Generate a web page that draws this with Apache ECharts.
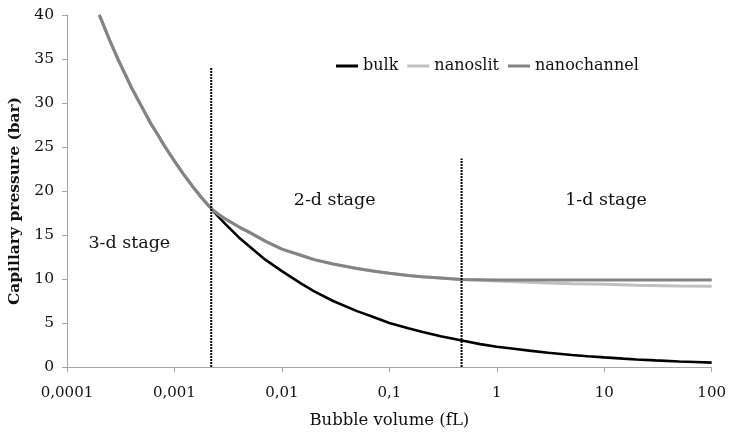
<!DOCTYPE html>
<html>
<head>
<meta charset="utf-8">
<script src="https://cdn.jsdelivr.net/npm/echarts@6/dist/echarts.min.js"></script>
<style>
html,body{margin:0;padding:0;background:#fff;}
#chart{width:729px;height:434px;}
</style>
</head>
<body>
<div id="chart"></div>
<script>
// ---- data ----
var xTickLabels = ['0,0001', '0,001', '0,01', '0,1', '1', '10', '100'];

var bulkV = [0.0002, 0.00025, 0.0003, 0.00035, 0.0004, 0.0005, 0.0006, 0.0007, 0.0008, 0.001, 0.0012, 0.0015, 0.0018, 0.0022, 0.0026, 0.003, 0.004, 0.005, 0.007, 0.01, 0.015, 0.02, 0.03, 0.05, 0.07, 0.1, 0.15, 0.2, 0.3, 0.5, 0.7, 1, 1.5, 2, 3, 5, 7, 10, 15, 20, 30, 50, 70, 100];
var bulkP = [40, 37.1, 34.9, 33.2, 31.7, 29.5, 27.7, 26.4, 25.2, 23.4, 22.0, 20.4, 19.2, 18.0, 17.0, 16.2, 14.7, 13.7, 12.2, 10.9, 9.5, 8.6, 7.5, 6.35, 5.7, 5.0, 4.4, 4.0, 3.5, 2.95, 2.6, 2.3, 2.05, 1.86, 1.62, 1.37, 1.22, 1.09, 0.95, 0.86, 0.75, 0.63, 0.57, 0.50];

var channelV = [0.0002, 0.00025, 0.0003, 0.00035, 0.0004, 0.0005, 0.0006, 0.0007, 0.0008, 0.001, 0.0012, 0.0015, 0.0018, 0.0022, 0.0026, 0.003, 0.004, 0.005, 0.007, 0.01, 0.015, 0.02, 0.03, 0.05, 0.07, 0.1, 0.15, 0.2, 0.3, 0.47, 1, 10, 100];
var channelP = [40, 37.1, 34.9, 33.2, 31.7, 29.5, 27.7, 26.4, 25.2, 23.4, 22.0, 20.4, 19.2, 18.0, 17.3, 16.8, 15.9, 15.3, 14.3, 13.4, 12.7, 12.2, 11.7, 11.2, 10.9, 10.65, 10.4, 10.25, 10.1, 9.93, 9.88, 9.88, 9.88];

var slitV = [0.0002, 0.00025, 0.0003, 0.00035, 0.0004, 0.0005, 0.0006, 0.0007, 0.0008, 0.001, 0.0012, 0.0015, 0.0018, 0.0022, 0.0026, 0.003, 0.004, 0.005, 0.007, 0.01, 0.015, 0.02, 0.03, 0.05, 0.07, 0.1, 0.15, 0.2, 0.3, 0.47, 0.7, 1, 2, 3, 5, 10, 20, 50, 100];
var slitP = [40, 37.1, 34.9, 33.2, 31.7, 29.5, 27.7, 26.4, 25.2, 23.4, 22.0, 20.4, 19.2, 18.0, 17.3, 16.8, 15.9, 15.3, 14.3, 13.4, 12.7, 12.2, 11.7, 11.2, 10.9, 10.65, 10.4, 10.25, 10.1, 9.93, 9.85, 9.77, 9.62, 9.55, 9.47, 9.39, 9.3, 9.21, 9.17];

var dividerV = [0.0022, 0.47];
var dividerTop = [34, 23.7];

var stageText = ['3-d stage', '2-d stage', '1-d stage'];
var stageV = [0.00038, 0.031, 10.4];
var stageP = [14.0, 18.9, 18.9];

// ---- build ----
function zip(xs, ys) { return xs.map(function (x, i) { return [x, ys[i]]; }); }

var serif = 'DejaVu Serif';
var axisColor = '#a6a6a6';
var textColor = '#111111';

var series = [
  { name: 'bulk', type: 'line', data: zip(bulkV, bulkP), symbol: 'none', showSymbol: false,
    lineStyle: { color: '#000000', width: 2.6 }, itemStyle: { color: '#000000' }, z: 2 },
  { name: 'nanoslit', type: 'line', data: zip(slitV, slitP), symbol: 'none', showSymbol: false,
    lineStyle: { color: '#c0c0c0', width: 3 }, itemStyle: { color: '#c0c0c0' }, z: 3 },
  { name: 'nanochannel', type: 'line', data: zip(channelV, channelP), symbol: 'none', showSymbol: false,
    lineStyle: { color: '#848484', width: 3 }, itemStyle: { color: '#848484' }, z: 4 }
];

dividerV.forEach(function (v, i) {
  series.push({ name: 'divider' + i, type: 'line', data: [[v, 0], [v, dividerTop[i]]], symbol: 'none', showSymbol: false,
    lineStyle: { color: '#000000', width: 2, type: [2, 1] }, z: 5, silent: true });
});

series.push({
  name: 'stages', type: 'scatter', symbolSize: 0, silent: true, z: 6,
  itemStyle: { opacity: 1 },
  data: stageText.map(function (t, i) { return { value: [stageV[i], stageP[i]], name: t }; }),
  label: { show: true, position: 'inside', formatter: function (p) { return p.name; },
    fontFamily: serif, fontSize: 17.5, color: textColor, opacity: 1 }
});

var chart = echarts.init(document.getElementById('chart'), null, { renderer: 'canvas' });
chart.setOption({
  animation: false,
  backgroundColor: '#ffffff',
  grid: { left: 67, right: 15, top: 15, bottom: 64, containLabel: false },
  legend: {
    data: ['bulk', 'nanoslit', 'nanochannel'],
    left: 336, top: 58, padding: 0,
    icon: 'rect',
    itemWidth: 22, itemHeight: 3, itemGap: 9,
    textStyle: { fontFamily: serif, fontSize: 16, color: textColor }
  },
  xAxis: {
    type: 'log', logBase: 10, min: 0.0001, max: 100,
    name: 'Bubble volume (fL)', nameLocation: 'middle', nameGap: 45,
    nameTextStyle: { fontFamily: serif, fontSize: 16.5, color: textColor },
    axisLine: { show: true, lineStyle: { color: axisColor, width: 1 } },
    axisTick: { show: true, length: 5, lineStyle: { color: axisColor } },
    minorTick: { show: false },
    splitLine: { show: false },
    axisLabel: { margin: 19, fontFamily: serif, fontSize: 15, color: textColor,
      formatter: function (v, i) { return xTickLabels[i] !== undefined ? xTickLabels[i] : ''; } }
  },
  yAxis: {
    type: 'value', min: 0, max: 40, interval: 5,
    axisLine: { show: true, lineStyle: { color: axisColor, width: 1 } },
    axisTick: { show: true, length: 5, lineStyle: { color: axisColor } },
    splitLine: { show: false },
    axisLabel: { margin: 13, fontFamily: serif, fontSize: 15.5, color: textColor }
  },
  graphic: [{
    type: 'text', x: 15, y: 201, rotation: Math.PI / 2,
    style: { text: 'Capillary pressure (bar)', fontFamily: serif, fontWeight: 'bold', fontSize: 15.5,
      fill: textColor, align: 'center', verticalAlign: 'middle' }
  }],
  series: series
});
</script>
</body>
</html>
